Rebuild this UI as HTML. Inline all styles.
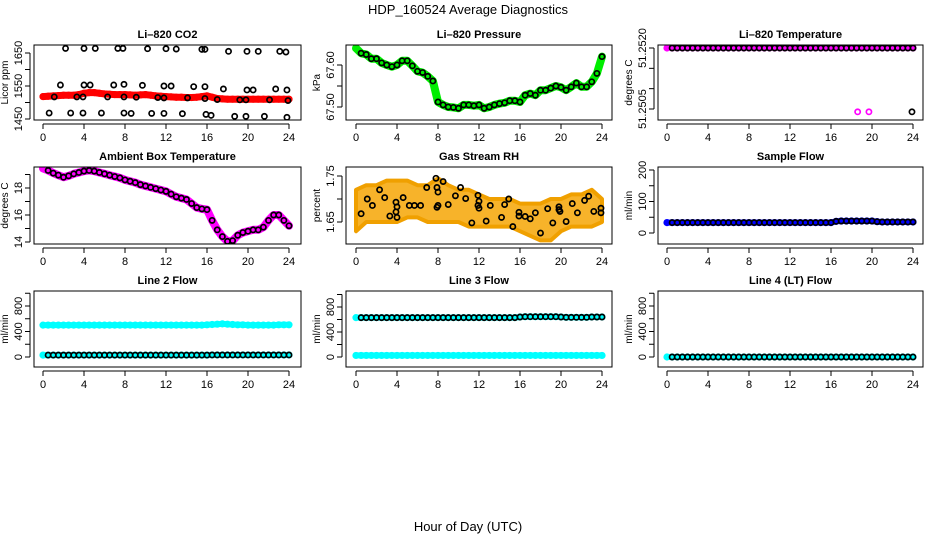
<!DOCTYPE html>
<html><head><meta charset="utf-8"><style>
html,body{margin:0;padding:0;background:#fff;}
svg{display:block;font-family:"Liberation Sans",Arial,sans-serif;}
.tt{font-weight:bold;font-size:11px;}
.tk{font-size:11px;}
.yl{font-size:10px;}
</style></head><body>
<svg id="chart" width="936" height="540" viewBox="0 0 936 540">
<text x="468" y="14" text-anchor="middle" font-size="13">HDP_160524  Average Diagnostics</text>
<text x="468" y="531" text-anchor="middle" font-size="13">Hour of Day (UTC)</text>
</svg>
<script>
// ---- data (half-hour grid values unless noted) ----
const xTicks = [0,4,8,12,16,20,24];
const co2Red = [1518,1519,1520,1521,1522,1522,1522,1524,1528,1530,1530,1528,1526,1525,1524,1524,1524,1523,1522,1523,1524,1522,1520,1519,1518,1517,1516,1516,1515,1515,1516,1518,1520,1516,1512,1511,1510,1510,1510,1510,1510,1510,1510,1510,1510,1510,1510,1510,1510];
const co2BlackX = [2.2,4,5.1,7.3,7.8,10.2,12,13,15.5,15.8,18.1,19.9,21,23.1,23.7,1.7,4,4.6,6.9,7.9,9.7,11.8,12.5,14.7,15.8,17.6,19.9,20.5,22.7,23.8,1.1,3.3,3.9,6.3,7.9,9.1,11.2,11.8,14.1,15.8,17,19.2,19.8,22.1,23.9,0.6,2.7,3.9,5.7,7.9,8.6,10.6,11.8,13.6,15.9,16.4,18.7,19.8,21.6,23.8];
const co2BlackY = [1664,1664,1664,1664,1664,1663,1663,1662,1661,1661,1655,1655,1655,1655,1653,1553,1553,1553,1553,1555,1552,1550,1550,1548,1548,1541,1538,1538,1541,1538,1517,1517,1517,1517,1517,1516,1515,1514,1514,1512,1509,1508,1508,1508,1506,1468,1468,1468,1468,1468,1467,1467,1467,1466,1464,1461,1458,1458,1458,1455];
const pressure = [67.640,67.628,67.625,67.615,67.615,67.605,67.600,67.596,67.600,67.610,67.610,67.598,67.585,67.582,67.573,67.562,67.512,67.505,67.500,67.499,67.497,67.505,67.505,67.503,67.505,67.497,67.500,67.505,67.508,67.510,67.515,67.515,67.512,67.528,67.532,67.528,67.540,67.540,67.545,67.550,67.547,67.540,67.548,67.557,67.548,67.548,67.560,67.580,67.620];
const liTemp = [51.2520,51.2520,51.2520,51.2520,51.2520,51.2520,51.2520,51.2520,51.2520,51.2520,51.2520,51.2520,51.2520,51.2520,51.2520,51.2520,51.2520,51.2520,51.2520,51.2520,51.2520,51.2520,51.2520,51.2520,51.2520,51.2520,51.2520,51.2520,51.2520,51.2520,51.2520,51.2520,51.2520,51.2520,51.2520,51.2520,51.2520,51.2520,51.2520,51.2520,51.2520,51.2520,51.2520,51.2520,51.2520,51.2520,51.2520,51.2520,51.2520];
const liTempOutX = [18.6,19.7,23.9];
const liTempOutY = [51.25043,51.25043,51.25043];
const ambient = [19.45,19.3,19.1,18.95,18.8,18.9,19.05,19.15,19.25,19.3,19.25,19.15,19.05,18.95,18.85,18.75,18.6,18.5,18.4,18.25,18.15,18.05,17.95,17.85,17.75,17.55,17.35,17.25,17.15,16.85,16.55,16.45,16.4,15.6,14.9,14.4,14.05,14.1,14.5,14.7,14.8,14.9,14.9,15.1,15.6,16.0,16.0,15.6,15.2];
const rhUpper = [1.72,1.73,1.73,1.74,1.74,1.74,1.73,1.73,1.745,1.73,1.72,1.72,1.71,1.70,1.70,1.70,1.69,1.69,1.69,1.70,1.70,1.71,1.71,1.72,1.70];
const rhLower = [1.63,1.65,1.65,1.65,1.65,1.66,1.66,1.65,1.65,1.65,1.65,1.64,1.64,1.64,1.64,1.64,1.63,1.62,1.61,1.61,1.63,1.64,1.64,1.64,1.65];
const rhBlackX = [0.5,1.1,1.6,2.3,2.8,3.3,3.9,3.9,4.0,4.0,4.6,5.2,5.7,6.3,6.9,7.8,7.9,8.0,7.9,8.0,8.5,9.0,9.7,10.2,10.7,11.3,11.9,11.9,12.0,12.0,12.7,13.1,14.2,14.5,14.9,15.3,15.9,15.9,16.5,17.0,17.5,18.0,18.7,19.2,19.8,19.8,19.9,20.5,21.1,21.6,22.3,22.7,23.2,23.9,23.9];
const rhBlackY = [1.668,1.700,1.686,1.720,1.703,1.663,1.693,1.672,1.660,1.683,1.703,1.686,1.686,1.686,1.725,1.745,1.682,1.686,1.725,1.715,1.738,1.688,1.707,1.725,1.701,1.648,1.708,1.686,1.680,1.695,1.652,1.686,1.660,1.688,1.700,1.640,1.671,1.663,1.662,1.657,1.670,1.626,1.679,1.648,1.683,1.677,1.673,1.651,1.690,1.670,1.697,1.706,1.673,1.680,1.670];
const sampleFlow = [33,33,33,33,33,33,33,33,33,33,33,33,33,33,33,33,33,33,33,33,33,33,33,33,33,33,33,33,33,33,33,33,33,37,38,38,38,38,38,38,38,36,35,35,35,35,35,35,35];
const line2Cyan = [500,500,500,500,500,500,500,500,500,500,500,500,500,500,500,500,500,500,500,500,500,500,500,500,500,500,500,500,500,500,500,500,505,510,515,520,515,510,505,505,500,500,500,500,500,500,505,505,505];
const line2Black = [30,30,30,30,30,30,30,30,30,30,30,30,30,30,30,30,30,30,30,30,30,30,30,30,30,30,30,30,30,30,30,30,30,32,32,32,32,32,32,32,32,32,32,32,32,32,32,32,32];
const line3Cyan = [25,25,25,25,25,25,25,25,25,25,25,25,25,25,25,25,25,25,25,25,25,25,25,25,25,25,25,25,25,25,25,25,25,25,25,25,25,25,25,25,25,25,25,25,25,25,25,25,25];
const line3Black = [630,630,630,630,630,630,630,630,630,630,630,630,630,630,630,630,630,630,630,630,630,630,630,630,630,630,630,630,630,630,630,630,640,645,645,645,645,645,645,645,640,635,635,635,635,635,640,640,640];
const line4 = [0,0,0,0,0,0,0,0,0,0,0,0,0,0,0,0,0,0,0,0,0,0,0,0,0,0,0,0,0,0,0,0,0,0,0,0,0,0,0,0,0,0,0,0,0,0,0,0,0];

const svg = document.getElementById('chart');
const NS = 'http://www.w3.org/2000/svg';
function mk(tag, attrs, parent){ const e=document.createElementNS(NS,tag); for(const k in attrs) e.setAttribute(k,attrs[k]); (parent||svg).appendChild(e); return e; }

const cols=[{L:34,R:301,x0:43,x24:289},{L:346,R:612,x0:356,x24:602},{L:658,R:923,x0:667,x24:913}];
const rows=[{T:45,B:120},{T:167,B:244},{T:291,B:367}];

function panel(c,r,title,name,ylab,ref,ticks,labels,fmt){
  const col=cols[c], row=rows[r];
  const g=mk('g',{});
  
  
  const X=h=>col.x0+(col.x24-col.x0)*h/24;
  const Y=v=>ref[1]+(ref[3]-ref[1])*(v-ref[0])/(ref[2]-ref[0]);
  const t=mk('text',{x:(col.L+col.R)/2,y:row.T-7,'text-anchor':'middle',class:'tt'},g);
  t.textContent=title;
  
  
  const yl=mk('text',{x:0,y:0,'text-anchor':'middle',class:'yl',transform:`translate(${col.L-26},${(row.T+row.B)/2}) rotate(-90)`},g);
  yl.textContent=ylab;
  
  
  mk('line',{x1:X(0),x2:X(24),y1:row.B+4,y2:row.B+4,stroke:'#000'},g);
  xTicks.forEach(h=>{
    mk('line',{x1:X(h),x2:X(h),y1:row.B+4,y2:row.B+9,stroke:'#000'},g);
    const tx=mk('text',{x:X(h),y:row.B+21,'text-anchor':'middle',class:'tk'},g);
    tx.textContent=h;
    
    
  });
  mk('line',{x1:col.L-4,x2:col.L-4,y1:Y(ticks[0]),y2:Y(ticks[ticks.length-1]),stroke:'#000'},g);
  ticks.forEach(v=>mk('line',{x1:col.L-9,x2:col.L-4,y1:Y(v),y2:Y(v),stroke:'#000'},g));
  labels.forEach(v=>{
    const tx=mk('text',{x:0,y:0,'text-anchor':'middle',class:'tk',transform:`translate(${col.L-12},${Y(v)}) rotate(-90)`},g);
    tx.textContent=fmt?fmt(v):v;
    
    
  });
  const clip='clip'+c+r;
  const cp=mk('clipPath',{id:clip},g); mk('rect',{x:col.L,y:row.T,width:col.R-col.L,height:row.B-row.T},cp);
  const plot=mk('g',{'clip-path':`url(#${clip})`},g);
  mk('rect',{x:col.L,y:row.T,width:col.R-col.L,height:row.B-row.T,fill:'none',stroke:'#000'},g);
  return {X,Y,plot};
}
function band(p,vals,color,w,name){
  const pts=vals.map((v,i)=>p.X(i*24/(vals.length-1)).toFixed(1)+','+p.Y(v).toFixed(1)).join(' ');
  const e=mk('polyline',{points:pts,fill:'none',stroke:color,'stroke-width':w,'stroke-linejoin':'round','stroke-linecap':'round'},p.plot);
  
  
  vals.forEach((v,i)=>{
    const d=mk('circle',{cx:p.X(i*24/(vals.length-1)),cy:p.Y(v),r:2.8,fill:'none',stroke:color,'stroke-width':1.6},p.plot);
    
    
  });
}
function dots(p,xs,ys,color,name){
  xs.forEach((x,i)=>{
    const d=mk('circle',{cx:p.X(x),cy:p.Y(ys[i]),r:2.6,fill:'none',stroke:color,'stroke-width':1.7},p.plot);
    
    
  });
}
function gridDots(p,vals,color,name,skip){
  vals.forEach((v,i)=>{ if(i<(skip||0))return;
    const d=mk('circle',{cx:p.X(i*24/(vals.length-1)),cy:p.Y(v),r:2.6,fill:'none',stroke:color,'stroke-width':1.7},p.plot);
    
    
  });
}

let p=panel(0,0,'Li\u2013820 CO2','co2-panel','Licor ppm',[1650,53,1450,119],[1450,1500,1550,1600,1650],[1450,1550,1650]);
band(p,co2Red,'#ff0000',7,'co2-red-series');
dots(p,co2BlackX,co2BlackY,'#000','co2-black-point');
p=panel(1,0,'Li\u2013820 Pressure','pressure-panel','kPa',[67.60,65,67.50,107],[67.50,67.55,67.60],[67.50,67.60],v=>v.toFixed(2));
band(p,pressure,'#00ee00',8,'pressure-green-series');
gridDots(p,pressure,'#000','pressure-black-point',1);
p=panel(2,0,'Li\u2013820 Temperature','li820-temp-panel','degrees C',[51.2520,48,51.2505,109],[51.2505,51.2510,51.2515,51.2520],[51.2505,51.2520],v=>v.toFixed(4));
band(p,liTemp,'#ff00ff',5,'li820-temp-magenta-series');
gridDots(p,liTemp,'#000','li820-temp-black-point',1);
dots(p,liTempOutX.slice(0,2),liTempOutY.slice(0,2),'#ff00ff','li820-temp-outlier');
dots(p,liTempOutX.slice(2),liTempOutY.slice(2),'#000','li820-temp-outlier');
p=panel(0,1,'Ambient Box Temperature','ambient-temp-panel','degrees C',[18,188,14,242],[14,15,16,17,18,19],[14,16,18]);
band(p,ambient,'#ff00ff',8,'ambient-magenta-series');
gridDots(p,ambient,'#000','ambient-black-point',1);
p=panel(1,1,'Gas Stream RH','rh-panel','percent',[1.75,176,1.65,222],[1.65,1.70,1.75],[1.65,1.75],v=>v.toFixed(2));
{
  const up=rhUpper.map((v,i)=>p.X(i)+','+p.Y(v)).join(' ');
  const lo=rhLower.map((v,i)=>p.X(i)+','+p.Y(v)).reverse().join(' ');
  const e=mk('polygon',{points:up+' '+lo,fill:'#f7b32a',stroke:'#f0a000','stroke-width':4,'stroke-linejoin':'round'},p.plot);
  
  
}
dots(p,rhBlackX,rhBlackY,'#000','rh-black-point');
p=panel(2,1,'Sample Flow','sample-flow-panel','ml/min',[200,170,0,233],[0,50,100,150,200],[0,100,200]);
band(p,sampleFlow,'#0000ff',6,'sample-flow-blue-series');
gridDots(p,sampleFlow,'#000','sample-flow-black-point',1);
p=panel(0,2,'Line 2 Flow','line2-flow-panel','ml/min',[800,306,0,357],[0,200,400,600,800,1000],[0,400,800]);
band(p,line2Cyan,'#00ffff',6,'line2-cyan-series');
band(p,line2Black,'#00ffff',6,'line2-cyan-low-series');
gridDots(p,line2Black,'#000','line2-black-point',1);
p=panel(1,2,'Line 3 Flow','line3-flow-panel','ml/min',[800,307,0,357],[0,200,400,600,800,1000],[0,400,800]);
band(p,line3Black,'#00ffff',6,'line3-cyan-high-series');
band(p,line3Cyan,'#00ffff',6,'line3-cyan-series');
gridDots(p,line3Black,'#000','line3-black-point',1);
p=panel(2,2,'Line 4 (LT) Flow','line4-flow-panel','ml/min',[800,306,0,357],[0,200,400,600,800,1000],[0,400,800]);
band(p,line4,'#00ffff',6,'line4-cyan-series');
gridDots(p,line4,'#000','line4-black-point',1);
</script>
</body></html>
